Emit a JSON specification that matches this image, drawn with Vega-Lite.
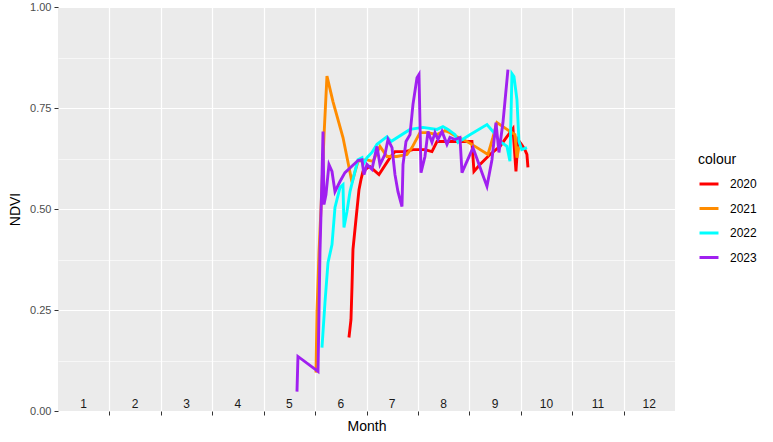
{
  "$schema": "https://vega.github.io/schema/vega-lite/v6.json",
  "width": 617,
  "height": 404,
  "autosize": "none",
  "padding": {"left": 58, "top": 7, "right": 98, "bottom": 31},
  "background": "white",
  "config": {
    "font": "Liberation Sans",
    "view": {"fill": "#EBEBEB", "stroke": null},
    "axis": {
      "gridColor": "white",
      "domain": false,
      "tickColor": "#333333",
      "tickSize": 4,
      "labelColor": "#4D4D4D",
      "labelFontSize": 11,
      "titleFontSize": 14,
      "titleFontWeight": "normal",
      "titleColor": "black"
    }
  },
  "layer": [
    {
      "data": {
        "values": [
          {"year": "2020", "m": 6.659, "v": 0.182},
          {"year": "2020", "m": 6.698, "v": 0.226},
          {"year": "2020", "m": 6.718, "v": 0.308},
          {"year": "2020", "m": 6.737, "v": 0.400},
          {"year": "2020", "m": 6.795, "v": 0.474},
          {"year": "2020", "m": 6.854, "v": 0.548},
          {"year": "2020", "m": 6.893, "v": 0.573},
          {"year": "2020", "m": 6.932, "v": 0.593},
          {"year": "2020", "m": 7.030, "v": 0.603},
          {"year": "2020", "m": 7.068, "v": 0.605},
          {"year": "2020", "m": 7.243, "v": 0.585},
          {"year": "2020", "m": 7.457, "v": 0.627},
          {"year": "2020", "m": 7.554, "v": 0.642},
          {"year": "2020", "m": 7.748, "v": 0.642},
          {"year": "2020", "m": 7.904, "v": 0.647},
          {"year": "2020", "m": 8.137, "v": 0.647},
          {"year": "2020", "m": 8.273, "v": 0.642},
          {"year": "2020", "m": 8.371, "v": 0.667},
          {"year": "2020", "m": 8.526, "v": 0.667},
          {"year": "2020", "m": 8.818, "v": 0.667},
          {"year": "2020", "m": 9.051, "v": 0.667},
          {"year": "2020", "m": 9.090, "v": 0.593},
          {"year": "2020", "m": 9.207, "v": 0.610},
          {"year": "2020", "m": 9.401, "v": 0.635},
          {"year": "2020", "m": 9.596, "v": 0.655},
          {"year": "2020", "m": 9.732, "v": 0.679},
          {"year": "2020", "m": 9.849, "v": 0.699},
          {"year": "2020", "m": 9.907, "v": 0.593},
          {"year": "2020", "m": 9.946, "v": 0.672},
          {"year": "2020", "m": 10.02, "v": 0.659},
          {"year": "2020", "m": 10.08, "v": 0.647},
          {"year": "2020", "m": 10.12, "v": 0.635},
          {"year": "2020", "m": 10.14, "v": 0.603},

          {"year": "2021", "m": 6.018, "v": 0.095},
          {"year": "2021", "m": 6.037, "v": 0.244},
          {"year": "2021", "m": 6.076, "v": 0.392},
          {"year": "2021", "m": 6.134, "v": 0.556},
          {"year": "2021", "m": 6.173, "v": 0.680},
          {"year": "2021", "m": 6.231, "v": 0.829},
          {"year": "2021", "m": 6.348, "v": 0.766},
          {"year": "2021", "m": 6.543, "v": 0.677},
          {"year": "2021", "m": 6.718, "v": 0.566},
          {"year": "2021", "m": 6.834, "v": 0.618},
          {"year": "2021", "m": 6.990, "v": 0.622},
          {"year": "2021", "m": 7.126, "v": 0.618},
          {"year": "2021", "m": 7.262, "v": 0.655},
          {"year": "2021", "m": 7.398, "v": 0.630},
          {"year": "2021", "m": 7.593, "v": 0.630},
          {"year": "2021", "m": 7.787, "v": 0.635},
          {"year": "2021", "m": 7.885, "v": 0.652},
          {"year": "2021", "m": 8.040, "v": 0.689},
          {"year": "2021", "m": 8.196, "v": 0.689},
          {"year": "2021", "m": 8.371, "v": 0.684},
          {"year": "2021", "m": 8.526, "v": 0.694},
          {"year": "2021", "m": 8.623, "v": 0.689},
          {"year": "2021", "m": 8.760, "v": 0.679},
          {"year": "2021", "m": 8.954, "v": 0.667},
          {"year": "2021", "m": 9.110, "v": 0.655},
          {"year": "2021", "m": 9.362, "v": 0.635},
          {"year": "2021", "m": 9.459, "v": 0.677},
          {"year": "2021", "m": 9.537, "v": 0.714},
          {"year": "2021", "m": 9.732, "v": 0.697},
          {"year": "2021", "m": 9.887, "v": 0.684},
          {"year": "2021", "m": 9.926, "v": 0.627},
          {"year": "2021", "m": 9.965, "v": 0.655},

          {"year": "2022", "m": 6.134, "v": 0.157},
          {"year": "2022", "m": 6.192, "v": 0.268},
          {"year": "2022", "m": 6.251, "v": 0.367},
          {"year": "2022", "m": 6.329, "v": 0.412},
          {"year": "2022", "m": 6.387, "v": 0.504},
          {"year": "2022", "m": 6.484, "v": 0.553},
          {"year": "2022", "m": 6.543, "v": 0.560},
          {"year": "2022", "m": 6.562, "v": 0.454},
          {"year": "2022", "m": 6.620, "v": 0.494},
          {"year": "2022", "m": 6.679, "v": 0.543},
          {"year": "2022", "m": 6.776, "v": 0.593},
          {"year": "2022", "m": 6.834, "v": 0.622},
          {"year": "2022", "m": 6.912, "v": 0.627},
          {"year": "2022", "m": 6.932, "v": 0.610},
          {"year": "2022", "m": 7.009, "v": 0.627},
          {"year": "2022", "m": 7.106, "v": 0.640},
          {"year": "2022", "m": 7.204, "v": 0.660},
          {"year": "2022", "m": 7.398, "v": 0.679},
          {"year": "2022", "m": 7.476, "v": 0.667},
          {"year": "2022", "m": 7.846, "v": 0.697},
          {"year": "2022", "m": 8.098, "v": 0.702},
          {"year": "2022", "m": 8.371, "v": 0.697},
          {"year": "2022", "m": 8.487, "v": 0.704},
          {"year": "2022", "m": 8.585, "v": 0.697},
          {"year": "2022", "m": 8.721, "v": 0.684},
          {"year": "2022", "m": 8.779, "v": 0.665},
          {"year": "2022", "m": 9.012, "v": 0.684},
          {"year": "2022", "m": 9.343, "v": 0.709},
          {"year": "2022", "m": 9.459, "v": 0.692},
          {"year": "2022", "m": 9.596, "v": 0.667},
          {"year": "2022", "m": 9.732, "v": 0.655},
          {"year": "2022", "m": 9.790, "v": 0.618},
          {"year": "2022", "m": 9.829, "v": 0.835},
          {"year": "2022", "m": 9.868, "v": 0.828},
          {"year": "2022", "m": 9.926, "v": 0.771},
          {"year": "2022", "m": 9.965, "v": 0.667},
          {"year": "2022", "m": 10.02, "v": 0.647},
          {"year": "2022", "m": 10.12, "v": 0.652},

          {"year": "2023", "m": 5.648, "v": 0.048},
          {"year": "2023", "m": 5.667, "v": 0.135},
          {"year": "2023", "m": 6.057, "v": 0.098},
          {"year": "2023", "m": 6.095, "v": 0.392},
          {"year": "2023", "m": 6.134, "v": 0.580},
          {"year": "2023", "m": 6.154, "v": 0.692},
          {"year": "2023", "m": 6.173, "v": 0.511},
          {"year": "2023", "m": 6.212, "v": 0.536},
          {"year": "2023", "m": 6.270, "v": 0.610},
          {"year": "2023", "m": 6.329, "v": 0.593},
          {"year": "2023", "m": 6.387, "v": 0.543},
          {"year": "2023", "m": 6.484, "v": 0.568},
          {"year": "2023", "m": 6.581, "v": 0.590},
          {"year": "2023", "m": 6.834, "v": 0.620},
          {"year": "2023", "m": 6.912, "v": 0.622},
          {"year": "2023", "m": 6.951, "v": 0.585},
          {"year": "2023", "m": 7.009, "v": 0.610},
          {"year": "2023", "m": 7.106, "v": 0.598},
          {"year": "2023", "m": 7.204, "v": 0.655},
          {"year": "2023", "m": 7.262, "v": 0.610},
          {"year": "2023", "m": 7.359, "v": 0.635},
          {"year": "2023", "m": 7.418, "v": 0.672},
          {"year": "2023", "m": 7.496, "v": 0.652},
          {"year": "2023", "m": 7.554, "v": 0.585},
          {"year": "2023", "m": 7.612, "v": 0.543},
          {"year": "2023", "m": 7.690, "v": 0.506},
          {"year": "2023", "m": 7.710, "v": 0.610},
          {"year": "2023", "m": 7.768, "v": 0.667},
          {"year": "2023", "m": 7.846, "v": 0.684},
          {"year": "2023", "m": 7.904, "v": 0.759},
          {"year": "2023", "m": 7.982, "v": 0.825},
          {"year": "2023", "m": 8.021, "v": 0.833},
          {"year": "2023", "m": 8.060, "v": 0.590},
          {"year": "2023", "m": 8.137, "v": 0.630},
          {"year": "2023", "m": 8.196, "v": 0.692},
          {"year": "2023", "m": 8.273, "v": 0.665},
          {"year": "2023", "m": 8.332, "v": 0.689},
          {"year": "2023", "m": 8.390, "v": 0.672},
          {"year": "2023", "m": 8.468, "v": 0.692},
          {"year": "2023", "m": 8.565, "v": 0.660},
          {"year": "2023", "m": 8.623, "v": 0.677},
          {"year": "2023", "m": 8.721, "v": 0.672},
          {"year": "2023", "m": 8.818, "v": 0.677},
          {"year": "2023", "m": 8.857, "v": 0.590},
          {"year": "2023", "m": 9.071, "v": 0.652},
          {"year": "2023", "m": 9.246, "v": 0.590},
          {"year": "2023", "m": 9.343, "v": 0.556},
          {"year": "2023", "m": 9.440, "v": 0.622},
          {"year": "2023", "m": 9.518, "v": 0.714},
          {"year": "2023", "m": 9.576, "v": 0.640},
          {"year": "2023", "m": 9.654, "v": 0.714},
          {"year": "2023", "m": 9.751, "v": 0.845}
        ]
      },
      "mark": {"type": "line", "strokeWidth": 2.9},
      "encoding": {
        "x": {
          "field": "m",
          "type": "quantitative",
          "scale": {"domain": [1, 13], "nice": false, "zero": false},
          "axis": {"values": [2, 3, 4, 5, 6, 7, 8, 9, 10, 11, 12], "labels": false, "title": "Month", "grid": true, "gridWidth": 1.2, "titlePadding": 4}
        },
        "y": {
          "field": "v",
          "type": "quantitative",
          "scale": {"domain": [0, 1], "nice": false, "zero": false},
          "axis": {"values": [0, 0.25, 0.5, 0.75, 1], "format": ".2f", "title": "NDVI", "grid": true, "gridWidth": 1.2, "labelPadding": 3, "titlePadding": 7, "orient": "left"}
        },
        "color": {
          "field": "year",
          "type": "nominal",
          "scale": {"domain": ["2020", "2021", "2022", "2023"], "range": ["#FF0000", "#FF8C00", "#00FFFF", "#A020F0"]},
          "legend": {
            "orient": "none",
            "legendX": 640,
            "legendY": 146,
            "title": "colour",
            "titleFontSize": 14,
            "titleFontWeight": "normal",
            "titleColor": "black",
            "titlePadding": 6,
            "labelFontSize": 12,
            "labelColor": "black",
            "labelOffset": 10,
            "symbolType": "stroke",
            "symbolStrokeWidth": 3,
            "symbolSize": 360,
            "rowPadding": 7.5,
            "padding": 0
          }
        }
      }
    },
    {
      "data": {
        "values": [
          {"m": 1, "label": "1"},
          {"m": 2, "label": "2"},
          {"m": 3, "label": "3"},
          {"m": 4, "label": "4"},
          {"m": 5, "label": "5"},
          {"m": 6, "label": "6"},
          {"m": 7, "label": "7"},
          {"m": 8, "label": "8"},
          {"m": 9, "label": "9"},
          {"m": 10, "label": "10"},
          {"m": 11, "label": "11"},
          {"m": 12, "label": "12"}
        ]
      },
      "mark": {"type": "text", "dx": 25.7, "dy": -7, "fontSize": 12, "color": "#1A1A1A", "baseline": "middle", "align": "center"},
      "encoding": {
        "x": {
          "field": "m",
          "type": "quantitative",
          "axis": {"values": [2, 3, 4, 5, 6, 7, 8, 9, 10, 11, 12], "labels": false, "title": "Month", "grid": true, "gridWidth": 1.2, "titlePadding": 4}
        },
        "y": {
          "datum": 0,
          "type": "quantitative",
          "axis": {"values": [0.125, 0.375, 0.625, 0.875], "orient": "left", "labels": false, "ticks": false, "domain": false, "title": null, "grid": true, "gridWidth": 0.6}
        },
        "text": {"field": "label"}
      }
    }
  ],
  "resolve": {"axis": {"y": "independent"}}
}
